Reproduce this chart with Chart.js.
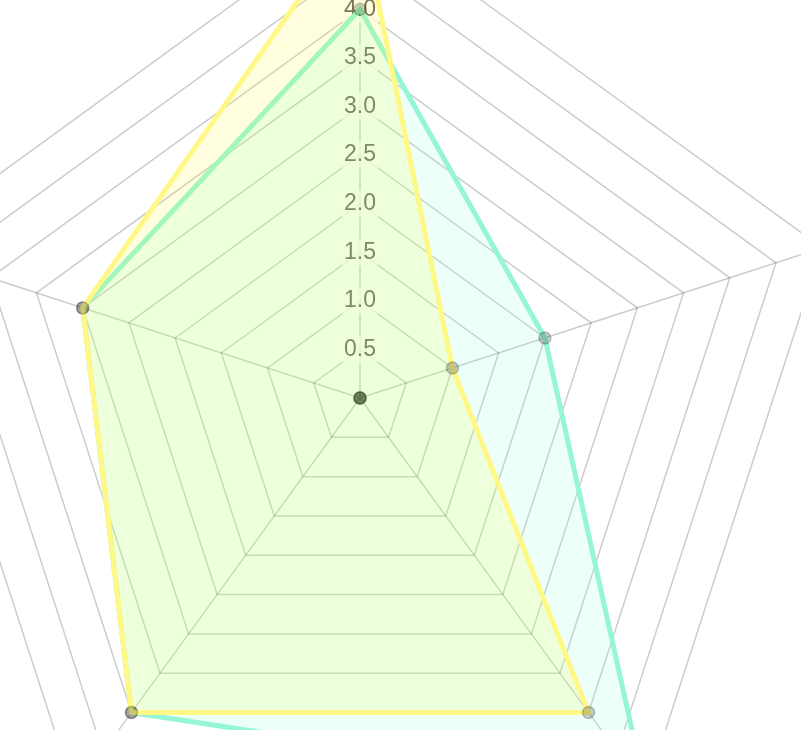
<!DOCTYPE html>
<html>
<head>
<meta charset="utf-8">
<script src="https://cdn.jsdelivr.net/npm/chart.js@4"></script>
<style>
  html, body { margin: 0; padding: 0; background: #fff; overflow: hidden; width: 801px; height: 730px; }
  #wrap { position: absolute; left: -140px; top: -102px; width: 1000px; height: 1000px; }
</style>
</head>
<body>
<div id="wrap"><canvas id="chart"></canvas></div>
<script>
const LABELS = ["A", "B", "C", "D", "E"]
const SERIES_YELLOW = [5, 1, 4, 4, 3]
const SERIES_TEAL = [4, 2, 5, 4, 3]
const SERIES_ZERO = [0, 0, 0, 0, 0]
const TICK_MIN = 0
const TICK_MAX = 5
const TICK_STEP = 0.5

const POINT = {
  pointBackgroundColor: "rgba(0, 0, 0, 0.2)",
  pointBorderColor: "rgba(0, 0, 0, 0.22)",
  pointBorderWidth: 1.5,
  pointRadius: 6,
}

new Chart(document.getElementById("chart"), {
  type: "radar",
  data: {
    labels: LABELS,
    datasets: [
      {
        label: "yellow",
        data: SERIES_YELLOW,
        borderColor: "rgb(255, 248, 135)",
        backgroundColor: "rgba(255, 255, 0, 0.12)",
        borderWidth: 5,
        fill: true,
        ...POINT,
      },
      {
        label: "teal",
        data: SERIES_TEAL,
        borderColor: "rgb(150, 245, 215)",
        backgroundColor: "rgba(127, 255, 212, 0.15)",
        borderWidth: 5,
        fill: true,
        ...POINT,
      },
      {
        label: "zero",
        data: SERIES_ZERO,
        borderColor: "rgba(0, 0, 0, 0)",
        backgroundColor: "rgba(0, 0, 0, 0)",
        borderWidth: 0,
        ...POINT,
      },
    ]
  },
  options: {
    responsive: true,
    maintainAspectRatio: false,
    animation: false,
    plugins: {
      legend: { display: false },
      tooltip: { enabled: false },
    },
    scales: {
      r: {
        min: TICK_MIN,
        max: TICK_MAX,
        ticks: {
          stepSize: TICK_STEP,
          color: "#666",
          font: { family: "'Liberation Sans', Arial, sans-serif", size: 23 },
          callback: (v) => v === 0 ? "" : v.toFixed(1),
        },
        pointLabels: { display: false },
        grid: { color: "rgba(0, 0, 0, 0.2)", lineWidth: 1.5 },
        angleLines: { color: "rgba(0, 0, 0, 0.2)", lineWidth: 1.5 },
      }
    }
  }
})
</script>
</body>
</html>
